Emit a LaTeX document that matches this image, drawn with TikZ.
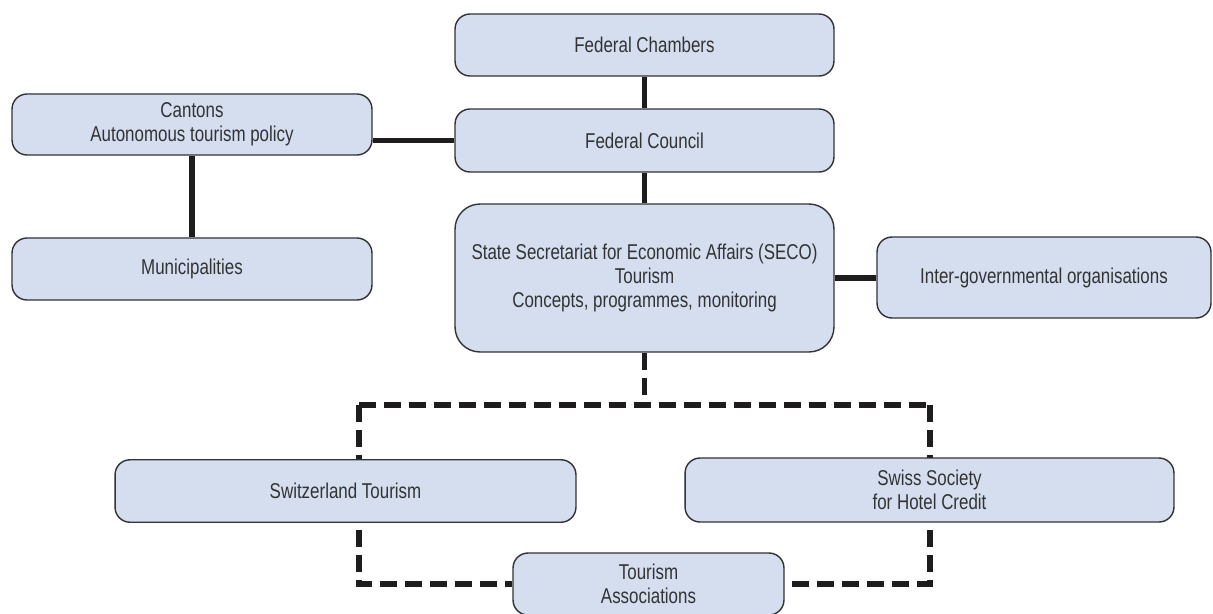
\documentclass[tikz,border=0pt]{standalone}
\usepackage{fontspec}
\setmainfont{Liberation Sans}[FakeStretch=0.79]
\definecolor{boxfill}{RGB}{212,222,239}
\definecolor{boxline}{RGB}{51,51,51}
\definecolor{linkcol}{RGB}{30,28,28}
\tikzset{
  orgbox/.style={draw=boxline, line width=0.8pt, fill=boxfill, rounded corners=0.3cm,
    text=boxline, align=center, inner sep=0pt,
    font=\fontsize{12.2}{13.6}\selectfont},
  link/.style={draw=linkcol, line width=2.9pt},
  dashlink/.style={draw=linkcol, line width=2.9pt, dash pattern=on 0.34cm off 0.16cm}
}
\begin{document}
\begin{tikzpicture}[x=0.02cm,y=-0.02cm]
\useasboundingbox (0,0) rectangle (1213,613);
% dashed links first, boxes go over them
\coordinate (jn) at (644.5,405);
\coordinate (dl) at (359,405);
\coordinate (dr) at (930,405);
\node[orgbox, minimum width=5.42cm, minimum height=1.24cm] (assoc) at (648.5,584) {Tourism\\Associations};
\node[orgbox, minimum width=7.58cm, minimum height=2.96cm, rounded corners=0.5cm] (seco) at (644.5,278)
  {State Secretariat for Economic Affairs (SECO)\\Tourism\\Concepts, programmes, monitoring};
\draw[dashlink] (seco.south) -- (jn);
\draw[dashlink] (dl) -- (dr);
\draw[dashlink] (dl) -- (dl |- assoc.west) -- (assoc.west);
\draw[dashlink] (dr) -- (dr |- assoc.east) -- (assoc.east);
\node[orgbox, minimum width=9.22cm, minimum height=1.25cm] (swt) at (345.5,491) {Switzerland Tourism};
\node[orgbox, minimum width=9.78cm, minimum height=1.28cm] (sshc) at (929.5,490) {Swiss Society\\for Hotel Credit};
% upper part
\node[orgbox, minimum width=7.58cm, minimum height=1.24cm] (chambers) at (644.5,45) {Federal Chambers};
\node[orgbox, minimum width=7.58cm, minimum height=1.26cm] (council) at (644.5,140.5) {Federal Council};
\node[orgbox, minimum width=7.2cm, minimum height=1.22cm] (cantons) at (192,124.5) {Cantons\\Autonomous tourism policy};
\node[orgbox, minimum width=7.2cm, minimum height=1.24cm] (munic) at (192,269) {Municipalities};
\node[orgbox, minimum width=6.68cm, minimum height=1.62cm] (inter) at (1044,277.5) {Inter-governmental organisations};
\draw[link] (chambers) -- (council);
\draw[link] (council.west) -- (council.west -| cantons.east);
\draw[link] (cantons) -- (munic);
\draw[link] (council) -- (seco);
\draw[link] (seco.east) -- (seco.east -| inter.west);
\end{tikzpicture}
\end{document}
